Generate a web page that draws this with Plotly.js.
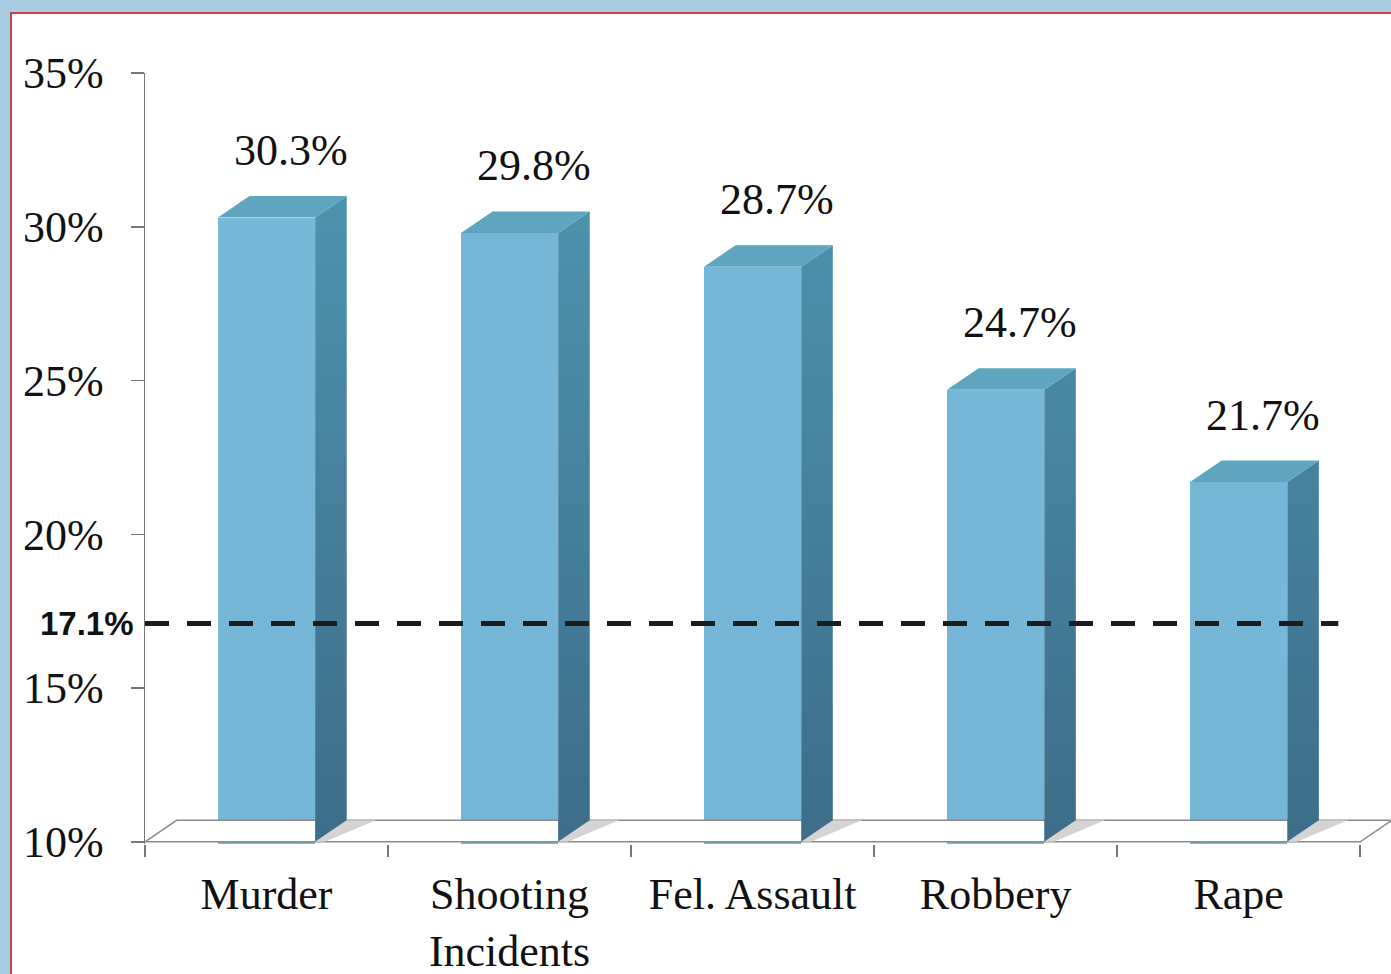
<!DOCTYPE html>
<html>
<head>
<meta charset="utf-8">
<script src="https://cdn.plot.ly/plotly-3.0.1.min.js"></script>
<style>
  html, body { margin: 0; padding: 0; }
  body { width: 1391px; height: 974px; background: #a9cde0; overflow: hidden; position: relative; }
  #chart { position: absolute; left: 10px; top: 12px; width: 1381px; height: 962px;
           background: #ffffff; border-left: 2px solid #c9444a; border-top: 2px solid #c9444a; box-sizing: border-box; }
</style>
</head>
<body>
<div id="chart"></div>
<script>
// ---- data ----
const categories = ['Murder', 'Shooting<br>Incidents', 'Fel. Assault', 'Robbery', 'Rape'];
const values = [30.3, 29.8, 28.7, 24.7, 21.7];
const valueLabels = ['30.3%', '29.8%', '28.7%', '24.7%', '21.7%'];
const average = 17.1;
const averageLabel = '17.1%';
const yTickVals = [10, 15, 20, 25, 30, 35];
const yTickText = ['10%', '15%', '20%', '25%', '30%', '35%'];

// ---- style constants ----
const FLOOR = 10;      // y-axis minimum (bars rise from here)
const HW = 0.2;        // half width of bar front face
const DX = 0.13;       // depth offset in x (category units)
const DY = 0.7;        // depth offset in y (value units)
const FRONT = '#76b7d8';
const TOP = '#5fa5bf';
const SERIF = '"Liberation Serif", "Times New Roman", serif';

const idx = values.map((v, i) => i);

// side faces, top faces and floor shadows built from values
const sideX = [], sideY = [], topX = [], topY = [], shX = [], shY = [];
values.forEach((v, i) => {
  sideX.push(i + HW, i + HW, i + HW + DX, i + HW + DX, i + HW, null);
  sideY.push(FLOOR, v, v + DY, FLOOR + DY, FLOOR, null);
  topX.push(i - HW, i + HW, i + HW + DX, i - HW + DX, i - HW, null);
  topY.push(v, v, v + DY, v + DY, v, null);
  shX.push(i + HW, i + HW + DX, i + HW + DX + 0.12, i + HW + 0.04, i + HW, null);
  shY.push(FLOOR, FLOOR + DY, FLOOR + DY, FLOOR, FLOOR, null);
});
const n = categories.length;
const floorX = [-0.5, n - 0.5, n - 0.5 + DX, -0.5 + DX, -0.5];
const floorY = [FLOOR, FLOOR, FLOOR + DY, FLOOR + DY, FLOOR];

const traces = [
  { type: 'scatter', x: floorX, y: floorY, mode: 'lines', fill: 'toself', fillcolor: '#ffffff',
    line: { color: '#8a8a8a', width: 1.5 }, hoverinfo: 'skip', showlegend: false },
  { type: 'scatter', x: shX, y: shY, mode: 'lines', fill: 'toself', fillcolor: '#d4d4d4',
    line: { width: 0, color: '#d4d4d4' }, hoverinfo: 'skip', showlegend: false },
  { type: 'bar', x: idx, y: values, width: 2 * HW,
    marker: { color: FRONT, line: { width: 0 } }, hoverinfo: 'skip', showlegend: false },
  { type: 'scatter', x: sideX, y: sideY, mode: 'lines', fill: 'toself',
    fillgradient: { type: 'vertical', colorscale: [[0, '#3d6d89'], [1, '#4d92ad']] },
    line: { width: 0, color: '#4a88a4' }, hoverinfo: 'skip', showlegend: false },
  { type: 'scatter', x: topX, y: topY, mode: 'lines', fill: 'toself', fillcolor: TOP,
    line: { width: 0, color: TOP }, hoverinfo: 'skip', showlegend: false },
  { type: 'scatter', x: [-0.5, n - 0.59], y: [average, average], mode: 'lines',
    line: { color: '#1c1c1c', width: 5, dash: '24px,18px' }, hoverinfo: 'skip', showlegend: false },
  { type: 'scatter', x: idx, y: values, xaxis: 'x2', mode: 'markers', marker: { opacity: 0 },
    hoverinfo: 'skip', showlegend: false }
];

const annotations = values.map((v, i) => ({
  x: i + 0.1, y: v, xref: 'x', yref: 'y', text: valueLabels[i], showarrow: false,
  yanchor: 'middle', yshift: 67, font: { family: SERIF, size: 44, color: '#111' }
}));
annotations.push({
  x: 0, y: average, xref: 'paper', yref: 'y', text: '<b>' + averageLabel + '</b>', showarrow: false,
  xanchor: 'right', yanchor: 'middle', xshift: -9,
  font: { family: '"Liberation Sans", Arial, sans-serif', size: 33, color: '#111' }
});

const xRange = [-0.5, n - 0.5 + DX + 0.005];

const layout = {
  width: 1381, height: 962,
  margin: { l: 133, r: 0, t: 59, b: 132 },
  paper_bgcolor: 'rgba(0,0,0,0)', plot_bgcolor: 'rgba(0,0,0,0)',
  showlegend: false,
  bargap: 0,
  xaxis: {
    range: xRange, type: 'linear', showgrid: false, zeroline: false, showline: false,
    tickvals: idx.concat([n]).map(k => k - 0.5), ticktext: idx.concat([n]).map(() => ''),
    ticks: 'outside', ticklen: 12, tickwidth: 1.5, tickcolor: '#777'
  },
  xaxis2: {
    overlaying: 'x', matches: 'x', range: xRange, type: 'linear', showgrid: false, zeroline: false,
    showline: false, side: 'bottom', tickvals: idx, ticktext: categories, ticks: '',
    ticklabelstandoff: 20,
    tickfont: { family: SERIF, size: 44, color: '#111' }
  },
  yaxis: {
    range: [9.93, 35], showgrid: false, zeroline: false,
    showline: true, linecolor: '#777', linewidth: 1.5,
    tickvals: yTickVals, ticktext: yTickText,
    ticks: 'outside', ticklen: 13, tickwidth: 1.5, tickcolor: '#777',
    ticklabelstandoff: 18,
    tickfont: { family: SERIF, size: 44, color: '#111' }
  },
  annotations: annotations
};

Plotly.newPlot('chart', traces, layout, { displayModeBar: false, staticPlot: true });
</script>
</body>
</html>
